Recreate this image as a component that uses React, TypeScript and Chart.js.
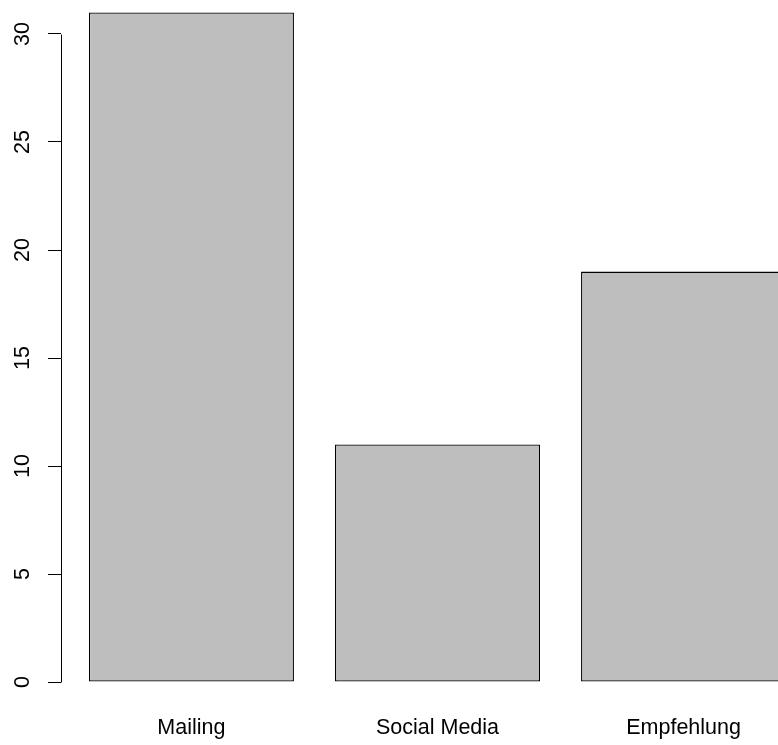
import React, { useEffect, useRef } from "react";
import { Chart, registerables } from "chart.js";

Chart.register(...registerables);

const categories = ["Mailing", "Social Media", "Empfehlung"];
const counts = [31, 11, 19];
const yTicks = [0, 5, 10, 15, 20, 25, 30];

// R barplot layout: width 1, space 0.2 -> bar centres at 0.7, 1.9, 3.1
const barCentres = categories.map((_, i) => 0.2 + i * 1.2 + 0.5);

const FONT = "'Liberation Sans', Arial, Helvetica, sans-serif";
const FONT_SIZE = 21.5;

const yAxisLine = {
  id: "yAxisLine",
  afterDraw(chart: any) {
    const y = chart.scales.y;
    const ctx = chart.ctx;
    const x = Math.round(chart.chartArea.left) + 0.5;
    ctx.save();
    ctx.strokeStyle = "#000";
    ctx.lineWidth = 1;
    ctx.beginPath();
    ctx.moveTo(x, Math.round(y.getPixelForValue(yTicks[0])) + 0.5);
    ctx.lineTo(x, Math.round(y.getPixelForValue(yTicks[yTicks.length - 1])) + 0.5);
    ctx.stroke();
    ctx.restore();
  },
};

export default function App() {
  const ref = useRef<HTMLCanvasElement | null>(null);

  useEffect(() => {
    if (!ref.current) return;
    const chart = new Chart(ref.current, {
      type: "bar",
      data: {
        datasets: [
          {
            data: counts.map((v, i) => ({ x: barCentres[i], y: v })),
            backgroundColor: "#BEBEBE",
            borderColor: "#000000",
            borderWidth: 1.3,
            borderSkipped: false,
            categoryPercentage: 1,
            barPercentage: 1 / 1.2,
          } as any,
        ],
      },
      plugins: [yAxisLine],
      options: {
        animation: false,
        responsive: true,
        maintainAspectRatio: false,
        devicePixelRatio: 1,
        layout: { padding: 0 },
        plugins: {
          legend: { display: false },
          tooltip: { enabled: false },
        },
        scales: {
          x: {
            type: "linear",
            offset: false,
            min: 0.064,
            max: 3.736,
            grid: { display: false, drawTicks: false, offset: false },
            border: { display: false },
            afterBuildTicks: (scale: any) => {
              scale.ticks = barCentres.map((v) => ({ value: v }));
            },
            afterFit: (scale: any) => {
              scale.height = 63;
              scale.paddingLeft = 0;
              scale.paddingRight = 0;
            },
            ticks: {
              autoSkip: false,
              maxRotation: 0,
              minRotation: 0,
              padding: 33,
              color: "#000",
              font: { family: FONT, size: FONT_SIZE },
              callback: (_v: any, i: number) => categories[i],
            },
          },
          y: {
            type: "linear",
            min: 0,
            max: 682 / 21.6,
            border: { display: false },
            grid: {
              display: true,
              drawOnChartArea: false,
              drawTicks: true,
              tickLength: 13,
              color: "#000",
              lineWidth: 1,
            },
            afterBuildTicks: (scale: any) => {
              scale.ticks = yTicks.map((v) => ({ value: v }));
            },
            afterFit: (scale: any) => {
              scale.width = 61;
              scale.paddingTop = 0;
              scale.paddingBottom = 0;
            },
            ticks: {
              minRotation: 90,
              maxRotation: 90,
              crossAlign: "center",
              padding: 13,
              color: "#000",
              font: { family: FONT, size: FONT_SIZE },
              callback: (v: any) => String(v),
            },
          },
        },
      } as any,
    });
    return () => chart.destroy();
  }, []);

  return (
    <div
      style={{
        position: "absolute",
        left: 0,
        top: 0,
        width: 778,
        height: 745,
        overflow: "hidden",
        background: "#fff",
      }}
    >
      <div style={{ position: "relative", width: 814, height: 745 }}>
        <canvas ref={ref} />
      </div>
    </div>
  );
}
